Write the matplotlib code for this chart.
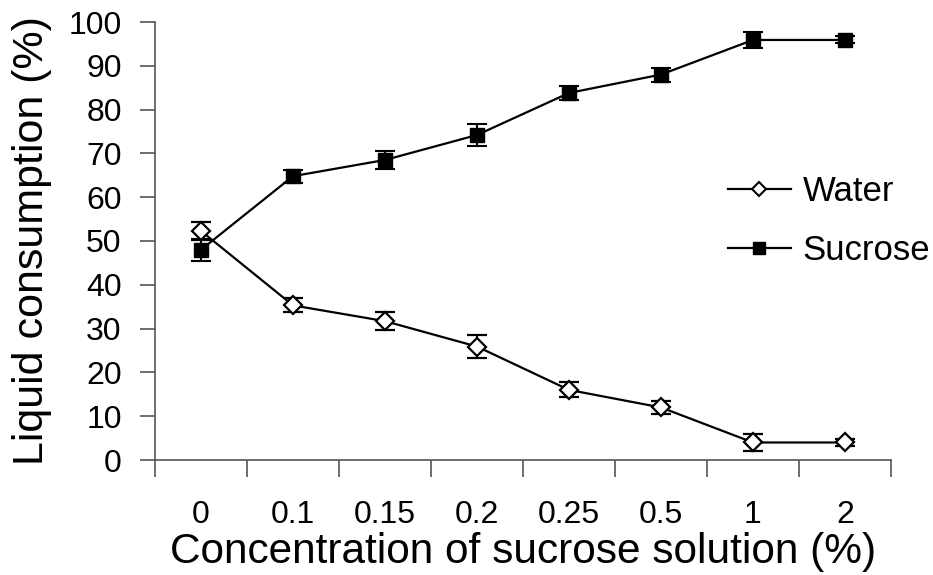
import matplotlib
matplotlib.use("Agg")
import matplotlib.pyplot as plt
from matplotlib.lines import Line2D
import numpy as np

# concentration categories (%) and consumption data
conc = ["0", "0.1", "0.15", "0.2", "0.25", "0.5", "1", "2"]
water = [52.3, 35.3, 31.7, 25.9, 16.0, 12.0, 4.0, 4.0]
water_err = [2.0, 1.6, 2.0, 2.7, 1.7, 1.5, 1.9, 0.8]
sucrose = [48.0, 64.8, 68.5, 74.2, 83.8, 88.0, 95.9, 95.9]
sucrose_err = [2.5, 1.5, 2.0, 2.5, 1.6, 1.6, 1.9, 0.8]

plt.rcParams['font.family'] = ['Liberation Sans', 'DejaVu Sans']

fig = plt.figure(figsize=(9.33, 5.75), dpi=100)
ax = fig.add_axes([155/933, 1 - 460/575, 736/933, 438/575])

x = np.arange(len(conc))

ax.errorbar(x, sucrose, yerr=sucrose_err, color='black', lw=1.6,
            marker='s', ms=10, mfc='black', mec='black',
            elinewidth=1.5, capsize=7, capthick=1.5)
ax.errorbar(x, water, yerr=water_err, color='black', lw=1.6,
            marker='D', ms=9, mfc='white', mec='black', mew=1.6,
            elinewidth=1.5, capsize=7, capthick=1.5)

ax.set_xlim(-0.5, len(conc) - 0.5)
ax.set_ylim(0, 100)
ax.set_yticks(np.arange(0, 101, 10))

# tick marks between categories, labels at category centres
ax.set_xticks(np.arange(-0.5, len(conc), 1.0))
ax.set_xticklabels([])
ax.set_xticks(x, minor=True)
ax.set_xticklabels(conc, minor=True)
ax.tick_params(axis='x', which='major', direction='out', length=12, width=1.2, color='#555555')
ax.tick_params(axis='x', which='minor', length=0, pad=29, labelsize=23)
ax.tick_params(axis='y', direction='out', length=11, width=1.2, color='#555555', pad=13, labelsize=23)

for s in ['top', 'right']:
    ax.spines[s].set_visible(False)
for s in ['left', 'bottom']:
    ax.spines[s].set_color('#555555')
    ax.spines[s].set_linewidth(1.2)

ax.set_ylabel("Liquid consumption (%)", fontsize=31)
ax.yaxis.set_label_coords(-103/736, 0.5)
ax.set_xlabel("Concentration of sucrose solution (%)", fontsize=30.5)
ax.xaxis.set_label_coords(0.5, -72/438)

hw = Line2D([], [], color='black', lw=1.6, marker='D', ms=7, mfc='white', mec='black', mew=1.5)
hs = Line2D([], [], color='black', lw=1.6, marker='s', ms=9, mfc='black', mec='black')
ax.legend([hw, hs], ['Water', 'Sucrose'], frameon=False, fontsize=25,
          loc='upper left', bbox_to_anchor=(728/933, 1 - 175/575),
          bbox_transform=fig.transFigure, borderpad=0, borderaxespad=0,
          handlelength=1.8, handletextpad=0.35, labelspacing=0.75)

fig.savefig("out.png", dpi=100, facecolor="white")
